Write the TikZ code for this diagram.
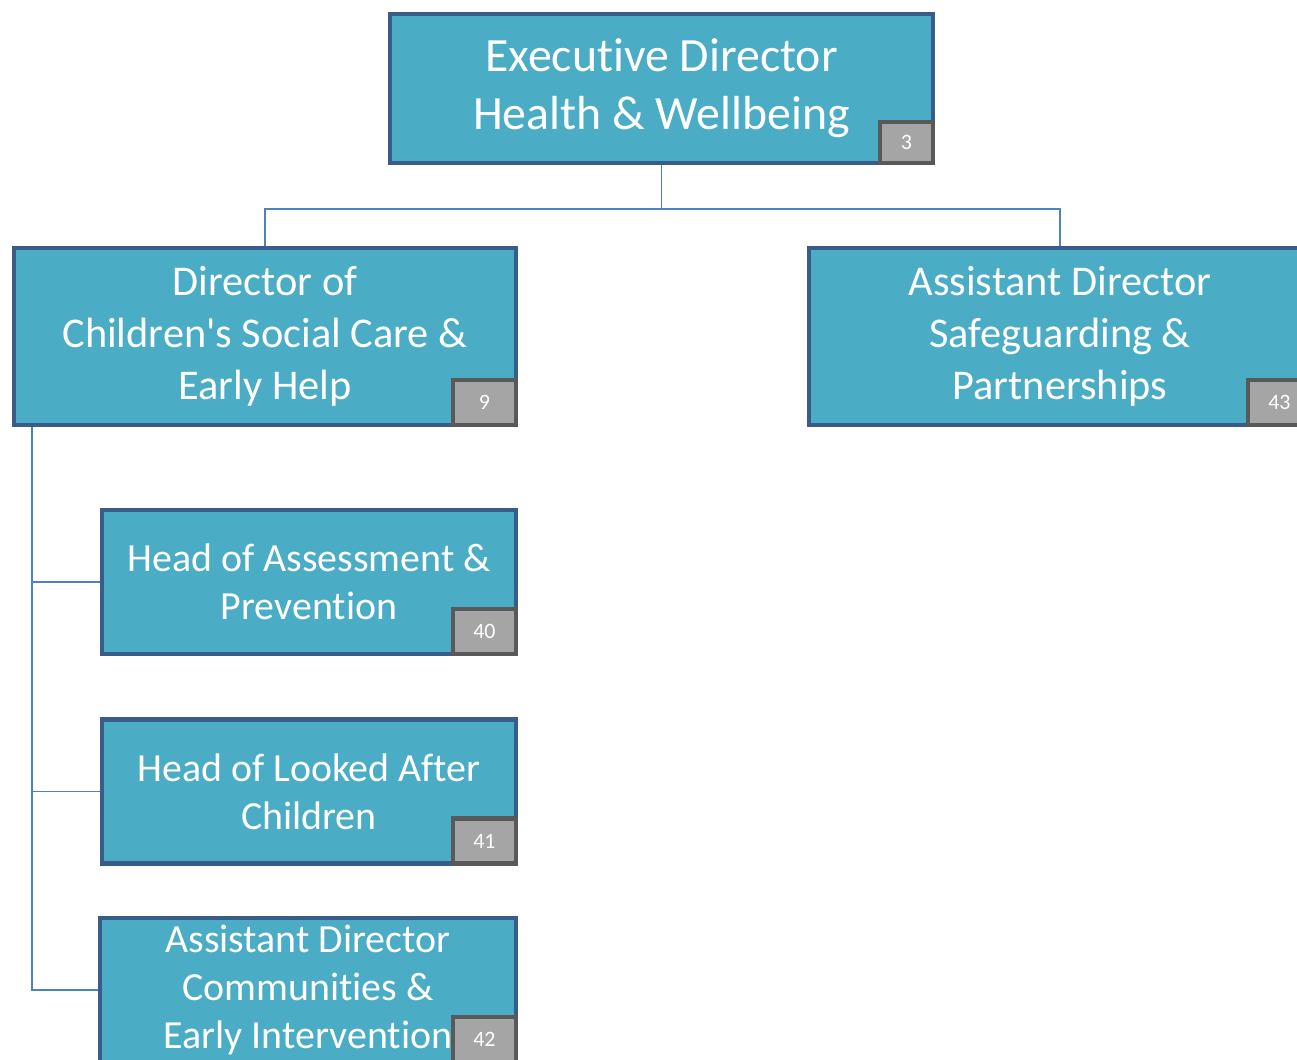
\documentclass[tikz,border=0pt]{standalone}
\usepackage{fontspec}
\setmainfont{Carlito}[Ligatures=NoCommon]
\usepackage{xcolor}
\definecolor{boxfill}{HTML}{4BACC6}
\definecolor{boxline}{HTML}{385D8A}
\definecolor{linkblue}{HTML}{4F81BD}
\definecolor{tagfill}{HTML}{A5A5A5}
\definecolor{tagline}{HTML}{595959}

\begin{document}
\begin{tikzpicture}[x=0.02cm, y=-0.02cm,
    post/.style={draw=boxline, fill=boxfill, line width=2.5pt, text=white, align=center, inner sep=0pt},
    tag/.style={draw=tagline, fill=tagfill, line width=2.5pt, text=white, inner sep=0pt,
                minimum width=1.26cm, minimum height=0.9cm, font=\fontsize{12.5}{14}\selectfont, anchor=south east},
    link/.style={draw=linkblue, line width=1pt}]
				\clip (0,0) rectangle (1297,1059);
				% boxes
				\node[post, minimum width=10.86cm, minimum height=2.98cm, font=\fontsize{27.2}{32.9}\selectfont]
					(exec) at (661.5,88.5) {Executive Director\\Health \& Wellbeing};
				\node[post, minimum width=10.04cm, minimum height=3.54cm, font=\fontsize{24.1}{29.5}\selectfont]
					(dir) at (265,336.5) {Director of\\Children\textquotesingle s Social Care \&\\Early Help};
				\node[post, minimum width=10.04cm, minimum height=3.54cm, font=\fontsize{24.1}{29.5}\selectfont]
					(asd) at (1060,336.5) {Assistant Director\\Safeguarding \&\\Partnerships};
				\node[post, minimum width=8.28cm, minimum height=2.88cm, font=\fontsize{22.7}{27.2}\selectfont]
					(hap) at (309,582) {Head of Assessment \&\\Prevention};
				\node[post, minimum width=8.28cm, minimum height=2.88cm, font=\fontsize{22.7}{27.2}\selectfont]
					(hlac) at (309,791.5) {Head of Looked After\\Children};
				\node[post, minimum width=8.32cm, minimum height=2.88cm, font=\fontsize{22.7}{27.2}\selectfont]
					(adc) at (308,990) {Assistant Director\\Communities \&\\Early Intervention};
				% number tags
				\node[tag, minimum width=1.06cm, minimum height=0.82cm] (n3) at (exec.south east) {3};
				\node[tag] (n9) at (dir.south east) {9};
				\node[tag] (n43) at (asd.south east) {43};
				\node[tag] (n40) at (hap.south east) {40};
				\node[tag] (n41) at (hlac.south east) {41};
				\node[tag] (n42) at (adc.south east) {42};
				% links
				\draw[link] (exec.south) -- ++(0,44) -| (dir.north);
				\draw[link] (exec.south) -- ++(0,44) -| (asd.north);
				\draw[link] (dir.south west) ++(20,0) |- (hap.west);
				\draw[link] (dir.south west) ++(20,0) |- (hlac.west);
				\draw[link] (dir.south west) ++(20,0) |- (adc.west);
			\end{tikzpicture}
\end{document}
